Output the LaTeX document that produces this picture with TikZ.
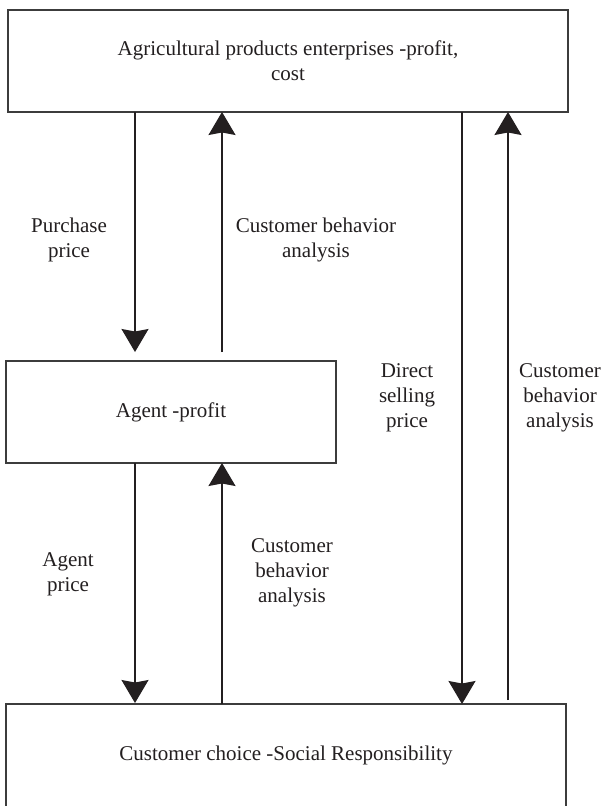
\documentclass[tikz,border=0pt]{standalone}
\usepackage{fontspec}
\setmainfont{Liberation Serif}
\usetikzlibrary{arrows.meta}
\definecolor{ink}{HTML}{231F20}
\definecolor{frame}{HTML}{3C3C3C}
\begin{document}
\begin{tikzpicture}[x=1pt,y=-1pt,
  box/.style={draw=frame, line width=1.3pt, fill=white},
  lbl/.style={text=ink, align=center, inner sep=0pt, font=\fontsize{21}{25}\selectfont},
  flow/.style={draw=ink, line width=1.2pt, -{Stealth[length=23pt,width=27pt,inset=2.5pt]}}]
  \useasboundingbox (0,0) rectangle (603,806);
  \fill[white] (0,0) rectangle (603,806);

  % boxes
  \draw[box] (8,10) rectangle (568,112);
  \draw[box] (6,361) rectangle (336,463);
  \draw[box] (6,704) rectangle (566,807);
  \node[lbl] (ent) at (288,61) {Agricultural products enterprises -profit,\\cost};
  \node[lbl] (agt) at (171,412) {Agent -profit};
  \node[lbl] (cus) at (286,755) {Customer choice -Social Responsibility};

  % connector end points
  \coordinate (e1) at (135,112);  \coordinate (a1) at (135,352);
  \coordinate (e2) at (222,112);  \coordinate (a2) at (222,352);
  \coordinate (a3) at (135,463);  \coordinate (c3) at (135,703);
  \coordinate (a4) at (222,463);  \coordinate (c4) at (222,704);
  \coordinate (e5) at (462,112);  \coordinate (c5) at (462,704);
  \coordinate (e6) at (508,112);  \coordinate (c6) at (508,700);

  \draw[flow] (e1) -- (a1);
  \draw[flow] (a2) -- (e2);
  \draw[flow] (a3) -- (c3);
  \draw[flow] (c4) -- (a4);
  \draw[flow] (e5) -- (c5);
  \draw[flow] (c6) -- (e6);

  % labels
  \node[lbl] (l1) at (69,240) {Purchase\\price};
  \node[lbl] (l2) at (316,240) {Customer behavior\\analysis};
  \node[lbl] (l3) at (407,398) {Direct\\selling\\price};
  \node[lbl] (l4) at (560,398) {Customer\\behavior\\analysis};
  \node[lbl] (l5) at (68,574) {Agent\\price};
  \node[lbl] (l6) at (292,573) {Customer\\behavior\\analysis};
\end{tikzpicture}
\end{document}
